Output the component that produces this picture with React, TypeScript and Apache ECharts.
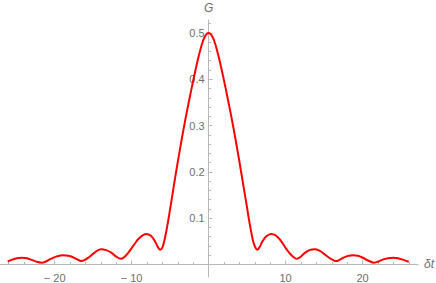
import React, { useEffect, useRef } from "react";
import * as echarts from "echarts";

const deltaT = [
  -26.1, -25.5, -24.9, -24.3, -23.6, -22.9, -22.2, -21.7, -21.2, -20.5, -19.7, -18.9,
  -18.2, -17.6, -17.0, -16.6, -16.2, -15.6, -14.9, -14.0, -13.3, -12.6, -12.0, -11.4,
  -11.1, -10.5, -9.8, -9.0, -8.1, -7.5, -7.0, -6.6, -6.3, -6.0, -5.7, -5.3, -4.9, -4.5,
  -4.0, -3.5, -3.0, -2.5, -2.0, -1.5, -1.0, -0.5,
  0,
  0.5, 1.0, 1.5, 2.0, 2.5, 3.0, 3.5, 4.0, 4.5, 5.0, 5.4, 5.8, 6.1, 6.3, 6.6, 7.0, 7.5,
  8.1, 8.7, 9.3, 10.0, 10.7, 11.2, 11.5, 11.9, 12.5, 13.1, 13.8, 14.4, 15.0, 15.7, 16.3,
  16.6, 17.0, 17.6, 18.2, 18.8, 19.4, 20.1, 20.8, 21.5, 22.0, 22.6, 23.3, 24.0, 24.7,
  25.4, 26.0,
];

const gValues = [
  0.0065, 0.0105, 0.0135, 0.0148, 0.0135, 0.0095, 0.0055, 0.004, 0.006, 0.012, 0.0175, 0.02,
  0.019, 0.0155, 0.0105, 0.0078, 0.009, 0.015, 0.0245, 0.033, 0.031, 0.025, 0.017, 0.0125,
  0.014, 0.024, 0.04, 0.057, 0.066, 0.062, 0.051, 0.038, 0.032, 0.037, 0.055, 0.09, 0.13, 0.172,
  0.222, 0.27, 0.315, 0.357, 0.397, 0.435, 0.468, 0.492,
  0.5,
  0.492, 0.468, 0.435, 0.397, 0.357, 0.315, 0.27, 0.222, 0.172, 0.122, 0.082, 0.049, 0.036,
  0.032, 0.037, 0.05, 0.061, 0.066, 0.063, 0.053, 0.036, 0.021, 0.014, 0.0125, 0.016, 0.025,
  0.031, 0.033, 0.03, 0.023, 0.014, 0.0085, 0.0075, 0.01, 0.0155, 0.019, 0.02, 0.019, 0.014,
  0.008, 0.004, 0.006, 0.0105, 0.0135, 0.0148, 0.013, 0.0095, 0.006,
];

const xMajorTicks = [-20, -10, 0, 10, 20];
const xTickLabels = [-20, -10, 10, 20];
const xMinorTicks = [-26, -24, -22, -18, -16, -14, -12, -8, -6, -4, -2, 2, 4, 6, 8, 12, 14, 16, 18, 22, 24, 26];
const yMajorTicks = [0.1, 0.2, 0.3, 0.4, 0.5];
const yTickLabels = [0.1, 0.2, 0.3, 0.4, 0.5];
const yMinorTicks = [
  0.02, 0.04, 0.06, 0.08, 0.12, 0.14, 0.16, 0.18, 0.22, 0.24, 0.26, 0.28,
  0.32, 0.34, 0.36, 0.38, 0.42, 0.44, 0.46, 0.48, 0.52,
];

const AXIS_COLOR = "#b8b8b8";
const LABEL_COLOR = "#6e6e6e";
const FONT = "Liberation Sans, Arial, sans-serif";

export default function App() {
  const ref = useRef<HTMLDivElement>(null);

  useEffect(() => {
    if (!ref.current) return;
    const chart = echarts.init(ref.current, null, { renderer: "svg" });
    const data = deltaT.map((x, i) => [x, gValues[i]]);
    const xMin = -27.1;
    const xMax = 27.2;
    const yMin = -0.027;
    const yMax = 0.528;
    const gridLeft = 0;
    const gridTop = 20;
    const gridW = 418;
    const gridH = 257;
    // distance of the zero lines from the grid edges
    const zeroX = (gridW * (0 - xMin)) / (xMax - xMin); // from left edge
    const zeroYFromTop = (gridH * (yMax - 0)) / (yMax - yMin);
    const zeroYFromBottom = gridH - zeroYFromTop;

    chart.setOption({
      animation: false,
      grid: {
        left: gridLeft,
        top: gridTop,
        width: gridW,
        height: gridH,
        containLabel: false,
        outerBoundsMode: "none",
      },
      xAxis: [
        {
          type: "value",
          position: "bottom",
          offset: -zeroYFromBottom,
          min: xMin,
          max: xMax,
          name: "δt",
          nameLocation: "end",
          nameGap: 6,
          nameTextStyle: { color: LABEL_COLOR, fontFamily: FONT, fontSize: 12, fontStyle: "italic" },
          axisLine: { onZero: false, lineStyle: { color: AXIS_COLOR, width: 1 } },
          axisTick: { show: true, inside: true, length: 4, customValues: xMajorTicks, lineStyle: { color: AXIS_COLOR } },
          axisLabel: {
            show: true,
            customValues: xTickLabels,
            hideOverlap: false,
            margin: 8,
            color: LABEL_COLOR,
            fontFamily: FONT,
            fontSize: 11,
            formatter: (v: number) => (v < 0 ? "\u2212 " + Math.abs(v) : String(v)),
          },
          splitLine: { show: false },
        },
        {
          type: "value",
          position: "top",
          offset: -zeroYFromTop,
          min: xMin,
          max: xMax,
          axisLine: { onZero: false, show: false },
          axisTick: { show: true, inside: false, length: 2.5, customValues: xMinorTicks, lineStyle: { color: AXIS_COLOR } },
          axisLabel: { show: false },
          splitLine: { show: false },
        },
      ],
      yAxis: [
        {
          type: "value",
          position: "left",
          offset: -zeroX,
          min: yMin,
          max: yMax,
          name: "G",
          nameLocation: "end",
          nameGap: 6,
          nameTextStyle: { color: LABEL_COLOR, fontFamily: FONT, fontSize: 12, fontStyle: "italic" },
          axisLine: { onZero: false, lineStyle: { color: AXIS_COLOR, width: 1 } },
          axisTick: { show: true, inside: true, length: 4, customValues: yMajorTicks, lineStyle: { color: AXIS_COLOR } },
          axisLabel: {
            show: true,
            customValues: yTickLabels,
            hideOverlap: false,
            margin: 4,
            color: LABEL_COLOR,
            fontFamily: FONT,
            fontSize: 11,
            formatter: (v: number) => v.toFixed(1),
          },
          splitLine: { show: false },
        },
        {
          type: "value",
          position: "right",
          offset: -(gridW - zeroX),
          min: yMin,
          max: yMax,
          axisLine: { onZero: false, show: false },
          axisTick: { show: true, inside: false, length: 2.5, customValues: yMinorTicks, lineStyle: { color: AXIS_COLOR } },
          axisLabel: { show: false },
          splitLine: { show: false },
        },
      ],
      series: [
        {
          type: "line",
          xAxisIndex: 0,
          yAxisIndex: 0,
          data,
          showSymbol: false,
          smooth: 0.4,
          lineStyle: { color: "#ff0000", width: 2 },
          itemStyle: { color: "#ff0000" },
        },
      ],
    });

    return () => chart.dispose();
  }, []);

  return (
    <div
      ref={ref}
      style={{ position: "fixed", left: 0, top: 0, width: 436, height: 283, background: "#fff" }}
    />
  );
}
